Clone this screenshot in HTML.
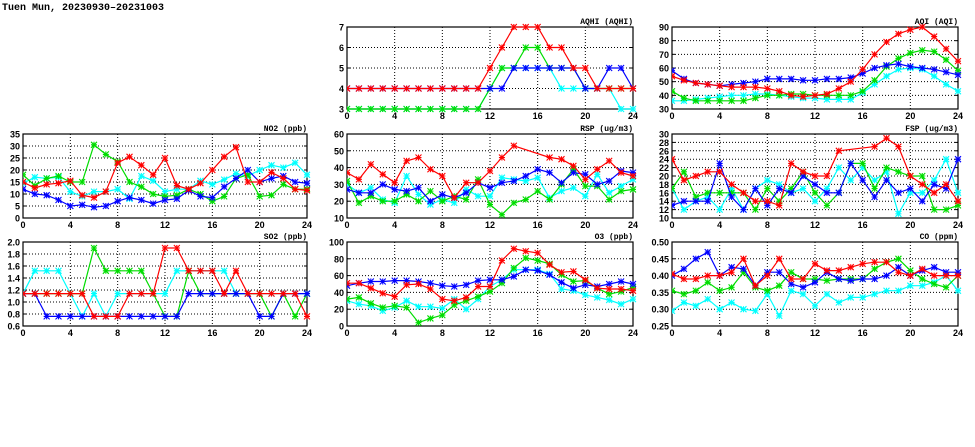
<!DOCTYPE html>
<html><head><meta charset="utf-8">
<style>
html,body{margin:0;padding:0;background:#fff;}
svg{display:block;font-family:"Liberation Sans",sans-serif;}
</style></head>
<body>
<svg id="chart" width="975" height="447" viewBox="0 0 975 447" xmlns="http://www.w3.org/2000/svg">
<rect width="975" height="447" fill="#fff"/>
<text x="2" y="10" font-size="10" font-weight="bold" font-family="Liberation Mono, monospace">Tuen Mun, 20230930&#8211;20231003</text>
</svg>
<script>
const hours=[0,1,2,3,4,5,6,7,8,9,10,11,12,13,14,15,16,17,18,19,20,21,22,23,24];
const xTicks=[0,4,8,12,16,20,24];
const seriesColors=["#00ffff","#00dd00","#0000ff","#ff0000"];
const seriesNames=["cyan","green","blue","red"];

const aqhiTicks=[3,4,5,6,7];
const aqhiCyan=[3,3,3,3,3,3,3,3,3,3,3,3,4,5,5,5,5,5,4,4,4,4,4,3,3];
const aqhiGreen=[3,3,3,3,3,3,3,3,3,3,3,3,4,5,5,6,6,5,5,5,4,4,4,4,4];
const aqhiBlue=[4,4,4,4,4,4,4,4,4,4,4,4,4,4,5,5,5,5,5,5,4,4,5,5,4];
const aqhiRed=[4,4,4,4,4,4,4,4,4,4,4,4,5,6,7,7,7,6,6,5,5,4,4,4,4];

const aqiTicks=[30,40,50,60,70,80,90];
const aqiCyan=[36,36,37,38,39,40,40,41,41,40,39,38,38,37,37,37,42,48,54,59,60,59,54,48,43];
const aqiGreen=[43,38,36,36,36,36,36,38,40,40,41,41,40,40,40,40,43,51,61,67,71,73,72,66,58];
const aqiBlue=[58,52,49,48,47,48,49,50,52,52,52,51,51,52,52,53,56,60,62,63,61,60,59,57,55];
const aqiRed=[54,51,49,48,47,46,46,46,45,43,40,39,40,41,45,50,59,70,79,85,88,90,83,74,65];

const no2Ticks=[0,5,10,15,20,25,30,35];
const no2Cyan=[14.5,17,16.5,17,11,9,11,11,12,8,17.5,15.5,11,12,12,15.5,14,16,18.5,17.5,20,22,21,23,18];
const no2Green=[18,13.5,16.5,17.5,15,15,30.5,26.5,23.5,15,13,10,9,9.5,12,10,7,9,16.5,18,9,9.5,14,12,12];
const no2Blue=[12,10,9.5,7.5,5,5.5,4.5,5,7,8.5,7.5,6,7.5,8,11.5,9,8.5,13,16.5,20,15,16.5,17.5,15,14.5];
const no2Red=[15,12.5,14,14.5,15.5,9.5,8.5,11,23,25.5,22,18,25,13.5,12,14.5,20,25.5,29.5,15,15,19,16.5,12,11.5];

const rspTicks=[10,20,30,40,50,60];
const rspCyan=[30,25,28,21,19,35,24,18,21,19,27,23,23,34,33,32,34,22,26,28,23,36,25,29,33];
const rspGreen=[32,19,23,20,20,24,20,26,20,23,21,33,18,12,19,21,26,21,30,39,29,29,21,26,27];
const rspBlue=[27,25,25,30,27,26,28,20,24,22,25,31,28,31,32,35,39,37,31,37,36,30,32,38,37];
const rspRed=[37,33,42,36,31,44,46,39,35,22,31,31,38,46,53,null,null,46,45,41,33,39,44,37,35];

const fspTicks=[10,12,14,16,18,20,22,24,26,28,30];
const fspCyan=[17,12,14,15,12,17,12,17,19,18,16,17,14,17,22,19,22,19,21,11,16,16,19,24,16];
const fspGreen=[17,21,15,16,16,16,16,12,17,14,17,21,16,13,16,23,23,17,22,21,20,20,12,12,13];
const fspBlue=[13,14,14,14,23,15,12,17,13,17,16,20,18,16,16,23,19,15,19,16,17,14,18,17,24];
const fspRed=[24,19,20,21,21,18,16,14,14,13,23,21,20,20,26,null,null,27,29,27,20,18,16,18,14];

const so2Ticks=[0.6,0.8,1.0,1.2,1.4,1.6,1.8,2.0];
const so2Cyan=[1.14,1.52,1.52,1.52,1.14,0.76,1.14,0.76,1.14,1.14,1.14,1.14,1.14,1.52,1.52,1.52,1.52,1.52,1.14,1.14,1.14,1.14,1.14,1.14,1.14];
const so2Green=[1.14,1.14,1.14,1.14,1.14,1.14,1.9,1.52,1.52,1.52,1.52,1.14,0.76,0.76,1.52,1.14,1.14,1.14,1.14,1.14,1.14,0.76,1.14,0.76,1.14];
const so2Blue=[1.14,1.14,0.76,0.76,0.76,0.76,0.76,0.76,0.76,0.76,0.76,0.76,0.76,0.76,1.14,1.14,1.14,1.14,1.14,1.14,0.76,0.76,1.14,1.14,1.14];
const so2Red=[1.14,1.14,1.14,1.14,1.14,1.14,0.76,0.76,0.76,1.14,1.14,1.14,1.9,1.9,1.52,1.52,1.52,1.14,1.52,1.14,1.14,1.14,1.14,1.14,0.76];

const o3Ticks=[0,20,40,60,80,100];
const o3Cyan=[30,26,24,18,22,30,23,23,21,32,20,32,47,55,67,67,67,62,44,42,37,34,31,26,32];
const o3Green=[32,34,27,22,24,22,4,9,13,25,30,35,41,51,69,81,78,74,61,53,54,45,38,41,46];
const o3Blue=[48,51,53,53,54,54,53,51,48,47,49,54,55,55,59,67,66,61,52,45,49,47,50,53,50];
const o3Red=[51,51,45,39,35,49,50,44,32,30,34,47,47,78,92,89,87,73,64,65,55,45,44,44,42];

const coTicks=[0.25,0.30,0.35,0.40,0.45,0.50];
const coCyan=[0.295,0.32,0.31,0.33,0.30,0.32,0.30,0.295,0.345,0.28,0.355,0.345,0.31,0.345,0.32,0.335,0.335,0.345,0.355,0.355,0.37,0.37,0.38,0.40,0.355];
const coGreen=[0.355,0.345,0.355,0.38,0.355,0.365,0.41,0.365,0.355,0.37,0.41,0.39,0.39,0.385,0.39,0.39,0.39,0.42,0.44,0.45,0.415,0.39,0.375,0.365,0.40];
const coBlue=[0.40,0.42,0.45,0.47,0.40,0.425,0.42,0.37,0.41,0.41,0.375,0.365,0.38,0.41,0.39,0.385,0.39,0.39,0.40,0.425,0.40,0.415,0.425,0.41,0.41];
const coRed=[0.405,0.39,0.39,0.40,0.40,0.41,0.45,0.37,0.40,0.45,0.39,0.39,0.435,0.415,0.415,0.425,0.435,0.44,0.44,0.41,0.40,0.42,0.40,0.40,0.40];

const panels=[
 {id:"aqhi",title:"AQHI (AQHI)",x0:347,x1:633,y0:27,y1:109,ticks:aqhiTicks,dec:0,series:[aqhiCyan,aqhiGreen,aqhiBlue,aqhiRed]},
 {id:"aqi",title:"AQI (AQI)",x0:672,x1:958,y0:27,y1:109,ticks:aqiTicks,dec:0,series:[aqiCyan,aqiGreen,aqiBlue,aqiRed]},
 {id:"no2",title:"NO2 (ppb)",x0:23,x1:307,y0:134,y1:218,ticks:no2Ticks,dec:0,series:[no2Cyan,no2Green,no2Blue,no2Red]},
 {id:"rsp",title:"RSP (ug/m3)",x0:347,x1:633,y0:134,y1:218,ticks:rspTicks,dec:0,series:[rspCyan,rspGreen,rspBlue,rspRed]},
 {id:"fsp",title:"FSP (ug/m3)",x0:672,x1:958,y0:134,y1:218,ticks:fspTicks,dec:0,series:[fspCyan,fspGreen,fspBlue,fspRed]},
 {id:"so2",title:"SO2 (ppb)",x0:23,x1:307,y0:242,y1:326,ticks:so2Ticks,dec:1,series:[so2Cyan,so2Green,so2Blue,so2Red]},
 {id:"o3",title:"O3 (ppb)",x0:347,x1:633,y0:242,y1:326,ticks:o3Ticks,dec:0,series:[o3Cyan,o3Green,o3Blue,o3Red]},
 {id:"co",title:"CO (ppm)",x0:672,x1:958,y0:242,y1:326,ticks:coTicks,dec:2,series:[coCyan,coGreen,coBlue,coRed]}
];

const NS="http://www.w3.org/2000/svg";
const svg=document.getElementById("chart");
function mk(tag,attrs,parent){const e=document.createElementNS(NS,tag);for(const k in attrs)e.setAttribute(k,attrs[k]);parent.appendChild(e);return e;}

panels.forEach(p=>{
  const g=mk("g",{},svg);
  
  
  const ymin=p.ticks[0],ymax=p.ticks[p.ticks.length-1];
  const xs=v=>p.x0+(v-0)/24*(p.x1-p.x0);
  const ys=v=>p.y1-(v-ymin)/(ymax-ymin)*(p.y1-p.y0);
  p.ticks.forEach((t,i)=>{
    const y=ys(t);
    if(i>0&&i<p.ticks.length-1){const l=mk("line",{x1:p.x0,x2:p.x1,y1:y,y2:y,stroke:"#000","stroke-width":1,"stroke-dasharray":"1,2"},g);
      }
    const tx=mk("text",{x:p.x0-3,y:y+3.5,"font-size":9,"font-weight":"bold","text-anchor":"end"},g);
    
    tx.textContent=t.toFixed(p.dec);
    mk("line",{x1:p.x0,x2:p.x0+3,y1:y,y2:y,stroke:"#000"},g);
    mk("line",{x1:p.x1-3,x2:p.x1,y1:y,y2:y,stroke:"#000"},g);
  });
  xTicks.forEach((t,i)=>{
    const x=xs(t);
    if(i>0&&i<xTicks.length-1){const l=mk("line",{x1:x,x2:x,y1:p.y0,y2:p.y1,stroke:"#000","stroke-width":1,"stroke-dasharray":"1,2"},g);
      }
    const tx=mk("text",{x:x,y:p.y1+10,"font-size":9,"font-weight":"bold","text-anchor":"middle"},g);
    
    tx.textContent=t;
  });
  const frame=mk("rect",{x:p.x0,y:p.y0,width:p.x1-p.x0,height:p.y1-p.y0,fill:"none",stroke:"#000","stroke-width":1.2},g);
  
  const tt=mk("text",{x:p.x1,y:p.y0-3,"font-size":8,"font-weight":"bold","text-anchor":"end","font-family":"Liberation Mono, monospace"},g);
  
  tt.textContent=p.title;
  const clipId="clip-"+p.id;
  const cp=mk("clipPath",{id:clipId},g);
  mk("rect",{x:p.x0,y:p.y0-4,width:p.x1-p.x0+4,height:p.y1-p.y0+8},cp);
  p.series.forEach((vals,si)=>{
    const sg=mk("g",{"clip-path":"url(#"+clipId+")"},g);
    
    
    const col=seriesColors[si];
    let d="",pen=false;
    vals.forEach((v,i)=>{
      if(v===null)return;
      d+=(pen?"L":"M")+xs(hours[i]).toFixed(1)+","+ys(v).toFixed(1);pen=true;
    });
    const ln=mk("path",{d:d,fill:"none",stroke:col,"stroke-width":1.2},sg);
    
    vals.forEach((v,i)=>{
      if(v===null)return;
      const x=xs(hours[i]),y=ys(v),r=3;
      const m=mk("path",{d:`M${x-r},${y-r}L${x+r},${y+r}M${x-r},${y+r}L${x+r},${y-r}M${x-r},${y}L${x+r},${y}M${x},${y-r}L${x},${y+r}`,stroke:col,"stroke-width":1.1,fill:"none"},sg);
      
    });
  });
});
</script>
</body></html>
